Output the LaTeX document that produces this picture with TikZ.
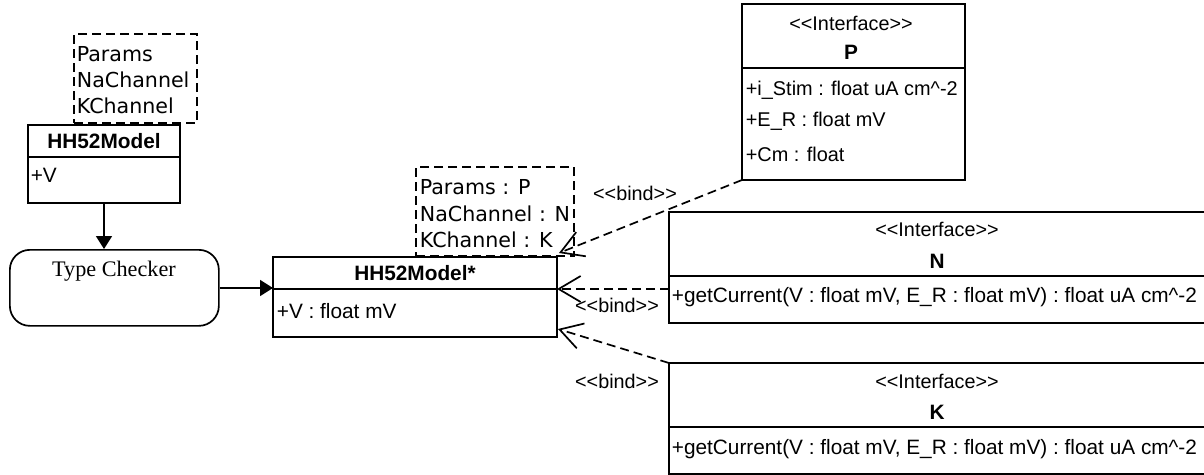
\documentclass[tikz,border=0pt]{standalone}
\usepackage{fontspec}
\setmainfont{Liberation Sans}[Ligatures=NoCommon]
\newfontfamily\djv{DejaVu Sans}
\newfontfamily\serifface{Liberation Serif}
\usetikzlibrary{arrows.meta,calc}

\begin{document}
\begin{tikzpicture}[x=1pt,y=-1pt,line width=1.7pt,
  box/.style={draw,rectangle,inner sep=0pt,outer sep=0pt,anchor=north west},
  tplbox/.style={box,dash pattern=on 9pt off 5pt},
  attr/.style={inner sep=0pt,anchor=west,font=\fontsize{20.8}{24}\selectfont},
  pattr/.style={attr,font=\fontsize{19.9}{24}\selectfont},
  tattr/.style={inner sep=0pt,anchor=west,font=\djv\fontsize{20.6}{24}\selectfont},
  cname/.style={inner sep=0pt,font=\bfseries\fontsize{20.8}{24}\selectfont},
  stereo/.style={inner sep=0pt,font=\fontsize{19.8}{24}\selectfont},
  bind/.style={dash pattern=on 9pt off 5pt,-{Straight Barb[length=22pt,width=26pt,line width=1.7pt]}},
  flow/.style={-{Triangle[length=13pt,width=16pt]}}
]
\path[use as bounding box] (0,0) rectangle (1204,474);
\clip (0,0) rectangle (1204,474);

% template parameters of the generic model
\node[tplbox,minimum width=123pt,minimum height=89pt] (tplA) at (74,34) {};
\node[tattr] (tplAp) at (76,54) {Params};
\node[tattr] (tplAn) at (76,80) {NaChannel};
\node[tattr] (tplAk) at (76,106) {KChannel};

% generic model class
\node[box,minimum width=152pt,minimum height=78pt] (hh) at (28,125) {};
\draw (hh.west |- 0,157) -- (hh.east |- 0,157);
\node[cname] (hhname) at (104,141) {HH52Model};
\node[attr] (hhv) at (30,175) {+V};

% type checker
\node[draw,rectangle,rounded corners=20pt,inner sep=0pt,anchor=north west,
      minimum width=209pt,minimum height=76pt] (tc) at (9,249) {};
\node[inner sep=0pt,font=\serifface\fontsize{22.2}{24}\selectfont] (tclabel) at (114,271) {Type Checker};

% bound model class
\node[box,minimum width=284pt,minimum height=80pt] (hhs) at (273,257) {};
\coordinate (hhsdiv) at (273,289);
\draw (hhsdiv) -- (hhs.east |- hhsdiv);
\node[cname] (hhsname) at (415,273) {HH52Model*};
\node[attr] (hhsv) at (276,311) {+V : float mV};

% bound template parameters
\node[tplbox,minimum width=158pt,minimum height=89pt] (tplB) at (416,167) {};
\node[tattr] (tplBp) at (419,187) {Params : P};
\node[tattr] (tplBn) at (419,214) {NaChannel : N};
\node[tattr] (tplBk) at (419,240) {KChannel : K};

% interface P
\node[box,minimum width=223pt,minimum height=176pt] (P) at (742,4) {};
\draw (P.west |- 0,68) -- (P.east |- 0,68);
\node[stereo] (Pst) at (851,23) {{<}{<}Interface{>}{>}};
\node[cname] (Pname) at (851,52) {P};
\node[pattr] (Pa1) at (745,90) {+i\_Stim : float uA cm\textasciicircum-2};
\node[pattr] (Pa2) at (745,121) {+E\_R : float mV};
\node[pattr] (Pa3) at (745,154) {+Cm : float};

% interface N
\node[box,minimum width=560pt,minimum height=111pt] (N) at (669,212) {};
\draw (N.west |- 0,276) -- (N.east |- 0,276);
\node[stereo] (Nst) at (937,229) {{<}{<}Interface{>}{>}};
\node[cname] (Nname) at (937,261) {N};
\node[attr] (Nop) at (671,297) {+getCurrent(V : float mV, E\_R : float mV) : float uA cm\textasciicircum-2};

% interface K
\node[box,minimum width=560pt,minimum height=111pt] (K) at (669,363) {};
\draw (K.west |- 0,427) -- (K.east |- 0,427);
\node[stereo] (Kst) at (937,381) {{<}{<}Interface{>}{>}};
\node[cname] (Kname) at (937,412) {K};
\node[attr] (Kop) at (671,449) {+getCurrent(V : float mV, E\_R : float mV) : float uA cm\textasciicircum-2};

% flow
\draw[flow] (hh.south) -- (hh.south |- tc.north);
\draw[flow] (tc.east |- 0,288) -- (hhs.west |- 0,288);

% bindings
\draw[bind] (P.south west) -- ($(hhs.north east)+(2,-4)$);
\draw[bind] (N.west |- hhsdiv) -- (hhs.east |- hhsdiv);
\draw[bind] (K.north west) -- ($(hhs.south east)+(1,-8)$);
\node[stereo] (b1) at (635,193) {{<}{<}bind{>}{>}};
\node[stereo] (b2) at (617,305) {{<}{<}bind{>}{>}};
\node[stereo] (b3) at (617,381) {{<}{<}bind{>}{>}};
\end{tikzpicture}
\end{document}
